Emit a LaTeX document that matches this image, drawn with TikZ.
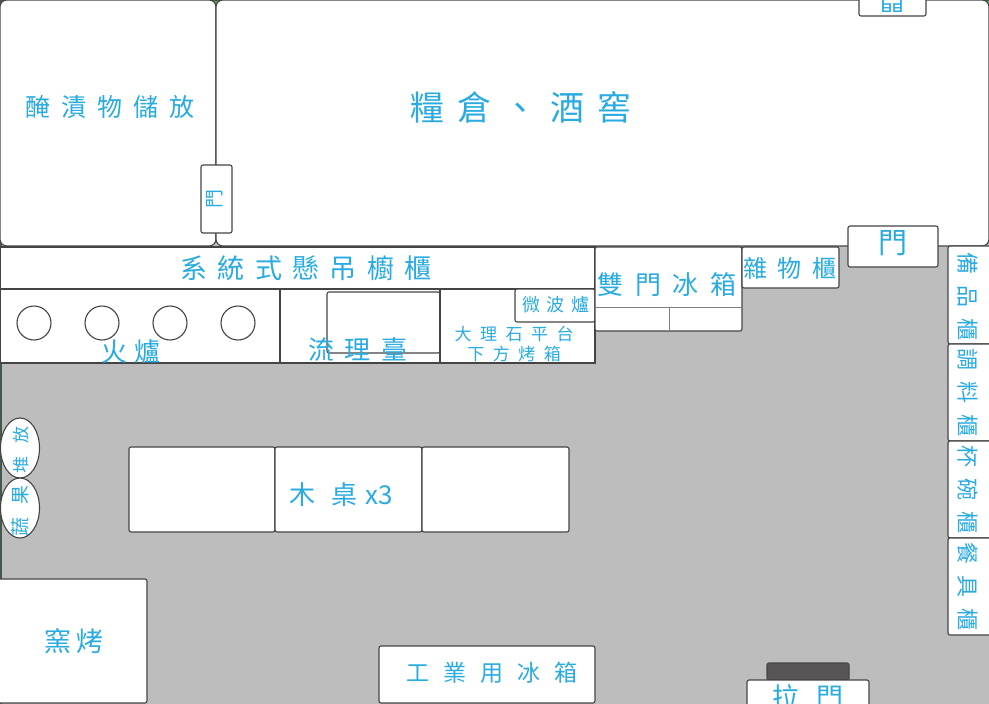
\documentclass[tikz,border=0pt]{standalone}
\usepackage{fontspec}
\newfontfamily\cjk{Noto Sans CJK TC}
\newcommand{\plantext}[2]{\cjk\fontsize{#1}{#1}\selectfont\addfontfeature{LetterSpace=#2}}
\definecolor{floorgray}{HTML}{BDBDBD}
\definecolor{linegray}{HTML}{444444}
\definecolor{textblue}{HTML}{29ABE2}
\definecolor{wallgreen}{HTML}{46574C}
\definecolor{handlegray}{HTML}{595557}
\tikzset{
  room/.style={draw=linegray, fill=white, line width=1.1pt, rounded corners=2pt},
  bigroom/.style={room, rounded corners=7pt},
  thinline/.style={draw=gray, line width=0.8pt},
  burner/.style={draw=linegray, line width=1.1pt},
  plan/.style={text=textblue, inner sep=0pt}
}
\begin{document}
\begin{tikzpicture}[x=1pt, y=-1pt]
  \useasboundingbox (0,0) rectangle (989,704);
  % floor
  \fill[floorgray] (0,0) rectangle (989,704);
  \fill[green!30!gray] (0,0) rectangle (989,14);
  \draw[wallgreen, line width=2pt] (0,0) -- (989,0);
  \draw[wallgreen, line width=3pt] (0,0) -- (0,704);

  % rooms at the top
  \draw[bigroom] (0,0) rectangle (216,246);
  \draw[bigroom] (216,0) rectangle (989,246);
  \draw[room] (859,-10) rectangle (926,16);
  \draw[room] (201,165) rectangle (232,233);
  \draw[room] (848,226) rectangle (938,267);

  % kitchen counter
  \draw[room, rounded corners=0pt] (0,247) rectangle (595,289);
  \draw[room, rounded corners=0pt] (0,289) rectangle (280,363);
  \draw[room, rounded corners=0pt] (280,289) rectangle (440,363);
  \draw[room] (327,292) rectangle (440,353);
  \draw[room, rounded corners=0pt] (440,289) rectangle (595,363);
  \draw[room] (515,289) rectangle (595,322);
  \draw[burner] (34,323) circle (17pt);
  \draw[burner] (102,323) circle (17pt);
  \draw[burner] (170,323) circle (17pt);
  \draw[burner] (238,323) circle (17pt);

  % fridge and cabinets
  \draw[room] (595,247) rectangle (742,331);
  \draw[thinline] (595,307) -- (742,307);
  \draw[thinline] (669,307) -- (669,331);
  \draw[room] (742,247) rectangle (839,288);
  \draw[room] (948,246) rectangle (995,344);
  \draw[room] (948,344) rectangle (995,441);
  \draw[room] (948,441) rectangle (995,538);
  \draw[room] (948,538) rectangle (995,635);

  % tables and the rest
  \draw[room] (129,447) rectangle (275,532);
  \draw[room] (275,447) rectangle (422,532);
  \draw[room] (422,447) rectangle (569,532);
  \draw[room] (-5,579) rectangle (147,703);
  \draw[room] (379,646) rectangle (595,703);
  \draw[room, fill=handlegray] (767,663) rectangle (849,680);
  \draw[room] (747,680) rectangle (869,715);
  \draw[burner, fill=white] (20,448) ellipse (19.5pt and 30pt);
  \draw[burner, fill=white] (20,508) ellipse (19.5pt and 30pt);

  % labels
  \node[plan, font=\plantext{25}{45}] (tPickle) at (110,107) {醃漬物儲放};
  \node[plan, font=\plantext{34}{37}] (tPantry) at (521,107) {糧倉、酒窖};
  \node[plan, font=\plantext{24}{0}, rotate=180] (tTopDoor) at (892,2) {門};
  \node[plan, font=\plantext{19}{0}, rotate=90] (tSideDoor) at (215,199) {門};
  \node[plan, font=\plantext{29}{0}] (tDoor) at (893,243) {門};
  \node[plan, font=\plantext{27}{38}] (tHanging) at (306,268) {系統式懸吊櫥櫃};
  \node[plan, font=\plantext{26}{30}] (tStove) at (131,352) {火爐};
  \node[plan, font=\plantext{26}{40}] (tSink) at (358,350) {流理臺};
  \node[plan, font=\plantext{17}{50}] (tMarble) at (514,334) {大理石平台};
  \node[plan, font=\plantext{17}{50}] (tOven) at (514,354) {下方烤箱};
  \node[plan, font=\plantext{18}{38}] (tMicro) at (556,305) {微波爐};
  \node[plan, font=\plantext{26}{45}] (tFridge) at (667,285) {雙門冰箱};
  \node[plan, font=\plantext{24}{45}] (tGoods) at (790,268) {雜物櫃};
  \node[plan, font=\plantext{22}{50}, rotate=-90] (tSpare) at (968,296) {備品櫃};
  \node[plan, font=\plantext{22}{50}, rotate=-90] (tSpice) at (968,392) {調料櫃};
  \node[plan, font=\plantext{22}{50}, rotate=-90] (tBowl) at (968,489) {杯碗櫃};
  \node[plan, font=\plantext{22}{50}, rotate=-90] (tDish) at (968,586) {餐具櫃};
  \node[plan, font=\plantext{26}{0}] (tTable) at (341,495) {木\hspace{16pt}桌\hspace{8pt}x3};
  \node[plan, font=\plantext{27}{20}] (tKiln) at (74,641) {窯烤};
  \node[plan, font=\plantext{23}{60}] (tIceBox) at (492,673) {工業用冰箱};
  \node[plan, font=\plantext{27}{65}] (tSliding) at (808,697) {拉門};
  \node[plan, font=\plantext{17}{80}, rotate=90] (tPile) at (21,450) {堆放};
  \node[plan, font=\plantext{19}{70}, rotate=90] (tFruit) at (20,511) {蔬果};
\end{tikzpicture}
\end{document}
